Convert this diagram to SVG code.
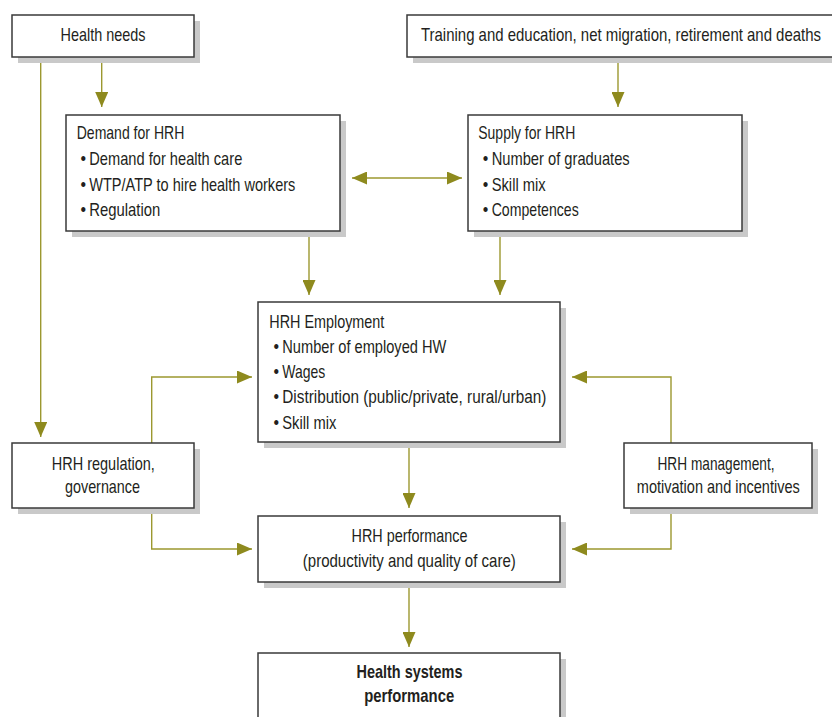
<svg xmlns="http://www.w3.org/2000/svg" width="832" height="717" viewBox="0 0 832 717">
<defs>
<style>
.box{fill:#fff;stroke:#3a3a3a;stroke-width:1.5}
.sh{fill:#c9c9c9}
.t{font-family:"Liberation Sans",Arial,sans-serif;font-size:18px;fill:#231f20}
.c{text-anchor:middle}
.b{font-weight:bold}
.con{fill:none;stroke:#9c982f;stroke-width:1.4}
</style>
<marker id="ah" markerUnits="userSpaceOnUse" markerWidth="15" markerHeight="13" refX="15" refY="6.5" orient="auto-start-reverse" viewBox="0 0 15 13">
<path d="M0,0 L15,6.5 L0,13 z" fill="#8e8a1e"/>
</marker>
</defs>
<rect width="832" height="717" fill="#fff"/>

<g id="connectors">
<path class="con" d="M40.7,57 V437" marker-end="url(#ah)"/>
<path class="con" d="M101.7,57 V107" marker-end="url(#ah)"/>
<path class="con" d="M618,57 V107" marker-end="url(#ah)"/>
<path class="con" d="M352,178 H462" marker-start="url(#ah)" marker-end="url(#ah)"/>
<path class="con" d="M309,231 V295" marker-end="url(#ah)"/>
<path class="con" d="M500,231 V295" marker-end="url(#ah)"/>
<path class="con" d="M151.7,443 V377 H252" marker-end="url(#ah)"/>
<path class="con" d="M151.7,508 V549 H252" marker-end="url(#ah)"/>
<path class="con" d="M671,443 V377 H572" marker-end="url(#ah)"/>
<path class="con" d="M671,508 V549 H572" marker-end="url(#ah)"/>
<path class="con" d="M409,442 V508" marker-end="url(#ah)"/>
<path class="con" d="M409,582 V647" marker-end="url(#ah)"/>
</g>

<g id="health-needs">
<rect class="sh" x="18" y="21" width="182" height="42"/>
<rect class="box" x="12" y="15" width="182" height="42"/>
<g transform="scale(0.88,1)">
<text class="t c" x="117.05" y="41.3" textLength="96.59" lengthAdjust="spacingAndGlyphs">Health needs</text>
</g>
</g>

<g id="training">
<rect class="sh" x="413" y="21" width="426" height="42"/>
<rect class="box" x="407" y="15" width="426" height="42"/>
<g transform="scale(0.84,1)">
<text class="t" x="501.19" y="41.3" textLength="476.19" lengthAdjust="spacingAndGlyphs">Training and education, net migration, retirement and deaths</text>
</g>
</g>

<g id="demand">
<rect class="sh" x="72" y="121" width="274" height="116"/>
<rect class="box" x="66" y="115" width="274" height="116"/>
<g transform="scale(0.88,1)">
<text class="t" x="87.16" y="139.3" textLength="122.27" lengthAdjust="spacingAndGlyphs">Demand for HRH</text>
<text class="t" x="91.48" y="165.3">•</text>
<text class="t" x="101.48" y="165.3" textLength="173.86" lengthAdjust="spacingAndGlyphs">Demand for health care</text>
<text class="t" x="91.48" y="190.7">•</text>
<text class="t" x="101.48" y="190.7" textLength="234.09" lengthAdjust="spacingAndGlyphs">WTP/ATP to hire health workers</text>
<text class="t" x="91.48" y="216.5">•</text>
<text class="t" x="101.48" y="216.5" textLength="80.68" lengthAdjust="spacingAndGlyphs">Regulation</text>
</g>
</g>

<g id="supply">
<rect class="sh" x="474" y="121" width="274" height="116"/>
<rect class="box" x="468" y="115" width="274" height="116"/>
<g transform="scale(0.88,1)">
<text class="t" x="543.52" y="139.3" textLength="110.23" lengthAdjust="spacingAndGlyphs">Supply for HRH</text>
<text class="t" x="548.64" y="165.3">•</text>
<text class="t" x="558.75" y="165.3" textLength="156.82" lengthAdjust="spacingAndGlyphs">Number of graduates</text>
<text class="t" x="548.64" y="190.7">•</text>
<text class="t" x="558.75" y="190.7" textLength="61.36" lengthAdjust="spacingAndGlyphs">Skill mix</text>
<text class="t" x="548.64" y="216.5">•</text>
<text class="t" x="558.75" y="216.5" textLength="98.86" lengthAdjust="spacingAndGlyphs">Competences</text>
</g>
</g>

<g id="employment">
<rect class="sh" x="264" y="308" width="302" height="140"/>
<rect class="box" x="258" y="302" width="302" height="140"/>
<g transform="scale(0.88,1)">
<text class="t" x="306.02" y="327.7" textLength="130.68" lengthAdjust="spacingAndGlyphs">HRH Employment</text>
<text class="t" x="310.68" y="352.7">•</text>
<text class="t" x="320.8" y="352.7" textLength="186.36" lengthAdjust="spacingAndGlyphs">Number of employed HW</text>
<text class="t" x="310.68" y="378.5">•</text>
<text class="t" x="320.8" y="378.5" textLength="48.86" lengthAdjust="spacingAndGlyphs">Wages</text>
<text class="t" x="310.68" y="403.5">•</text>
<text class="t" x="320.8" y="403.5" textLength="300" lengthAdjust="spacingAndGlyphs">Distribution (public/private, rural/urban)</text>
<text class="t" x="310.68" y="429">•</text>
<text class="t" x="320.8" y="429" textLength="61.36" lengthAdjust="spacingAndGlyphs">Skill mix</text>
</g>
</g>

<g id="regulation">
<rect class="sh" x="18" y="449" width="182" height="65"/>
<rect class="box" x="12" y="443" width="182" height="65"/>
<g transform="scale(0.88,1)">
<text class="t c" x="117.39" y="470" textLength="117.05" lengthAdjust="spacingAndGlyphs">HRH regulation,</text>
<text class="t c" x="116.48" y="493.3" textLength="85.23" lengthAdjust="spacingAndGlyphs">governance</text>
</g>
</g>

<g id="management">
<rect class="sh" x="630" y="449" width="188" height="65"/>
<rect class="box" x="624" y="443" width="188" height="65"/>
<g transform="scale(0.88,1)">
<text class="t c" x="813.64" y="470" textLength="132.95" lengthAdjust="spacingAndGlyphs">HRH management,</text>
<text class="t c" x="816.25" y="493.3" textLength="185.23" lengthAdjust="spacingAndGlyphs">motivation and incentives</text>
</g>
</g>

<g id="performance">
<rect class="sh" x="264" y="522" width="302" height="66"/>
<rect class="box" x="258" y="516" width="302" height="66"/>
<g transform="scale(0.88,1)">
<text class="t c" x="465.34" y="542.3" textLength="131.82" lengthAdjust="spacingAndGlyphs">HRH performance</text>
<text class="t c" x="465.11" y="566.7" textLength="242.05" lengthAdjust="spacingAndGlyphs">(productivity and quality of care)</text>
</g>
</g>

<g id="health-systems">
<rect class="sh" x="264" y="659" width="302" height="80"/>
<rect class="box" x="258" y="653" width="302" height="80"/>
<g transform="scale(0.88,1)">
<text class="t c b" x="465.34" y="678.3" textLength="120.45" lengthAdjust="spacingAndGlyphs">Health systems</text>
<text class="t c b" x="465" y="702" textLength="102.27" lengthAdjust="spacingAndGlyphs">performance</text>
</g>
</g>
</svg>
